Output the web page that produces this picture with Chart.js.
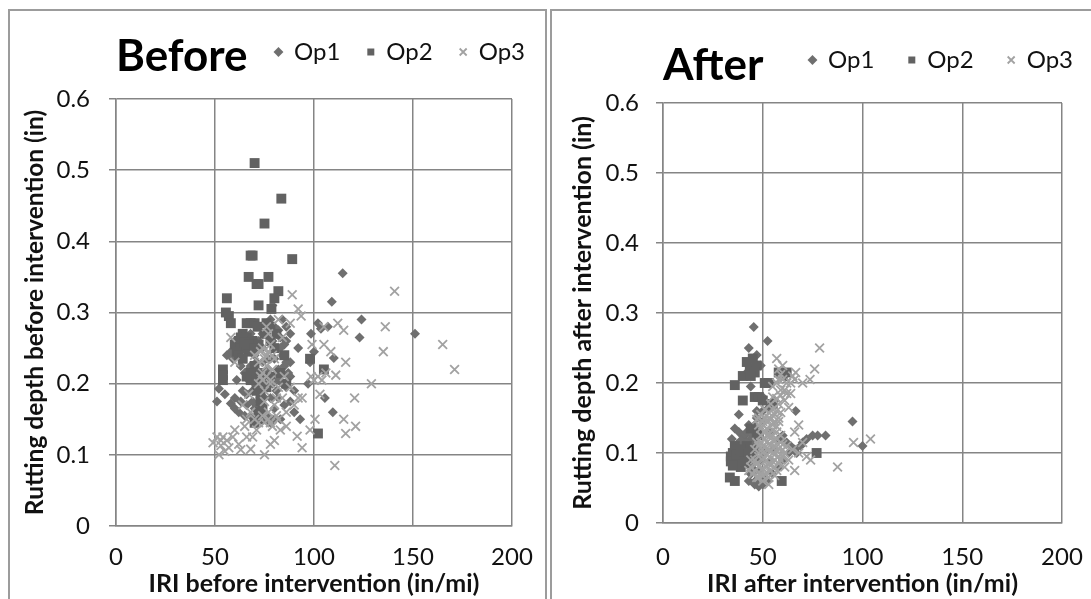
<!DOCTYPE html>
<html><head><meta charset="utf-8">
<script src="https://cdn.jsdelivr.net/npm/chart.js@4"></script>
<style>
html,body{margin:0;padding:0;background:#fff;width:1091px;height:599px;overflow:hidden}
.p{position:absolute;top:9px;height:600px;border:2px solid #9c9c9c;box-sizing:border-box;background:#fff}
#a{left:8px;width:539px}
#b{left:550px;width:560px}
canvas{position:absolute;left:0;top:0}
</style></head><body>
<div class="p" id="a"><canvas id="c1" width="535" height="590"></canvas></div>
<div class="p" id="b"><canvas id="c2" width="556" height="590"></canvas></div>
<script>
const seriesNames=["Op1","Op2","Op3"];
const xTicksMax=200, yTicksMax=0.6;
const beforeOp1=[[114.5,.355],[109,.315],[124,.29],[123,.265],[151,.27],[98.5,.27],[103.5,.277],[107,.28],[102,.285],[100,.245],[110,.236],[98,.23],[105.5,.18],[109.5,.16],[93,.15],[97,.2],[88,.21],[51,.175],[52,.193],[58,.172],[62,.16],[60,.18],[64,.19],[66,.17],[68,.155],[71,.145],[73,.16],[75,.18],[70,.2],[67,.205],[72,.215],[76,.205],[79,.2],[82,.22],[85,.225],[88,.23],[84,.24],[80,.235],[74,.23],[70,.24],[66,.245],[62,.25],[58,.245],[56,.24],[60,.26],[64,.265],[68,.27],[72,.26],[76,.27],[80,.28],[83,.265],[86,.26],[88,.27],[85,.255],[84,.29],[78,.29],[79,.31],[74,.25],[81,.19],[85,.17],[88,.175],[90,.16],[83,.15],[78,.145],[74,.15],[69,.175],[65,.215],[63,.225],[61,.205],[90,.19],[86,.195],[92,.25],[77,.235],[73,.2],[69,.19],[80,.165],[82,.205],[87,.215],[59,.235],[55,.185],[68,.225],[71,.23],[76,.155],[70,.165],[63,.175],[66,.185],[72,.17],[74,.19],[77,.22],[78,.18],[80,.15],[82,.18],[84,.2],[86,.23],[83,.25],[82,.275],[86,.28],[60,.165],[65,.155],[71,.155],[67,.22],[69,.21],[75,.215],[79,.26],[74,.27]];
const beforeOp2=[[70,.51],[83.5,.46],[75,.425],[68,.38],[69,.38],[89,.375],[67,.35],[71,.34],[72,.34],[77,.35],[82,.33],[80,.32],[56,.32],[72,.31],[78.5,.305],[55.5,.3],[57,.295],[58,.285],[66,.285],[68,.285],[70,.285],[71.5,.28],[64,.27],[66,.265],[69,.26],[62,.26],[60,.255],[63,.25],[65,.25],[67,.245],[61,.245],[72,.255],[75,.27],[78,.28],[81,.27],[54,.22],[54,.212],[54,.205],[105,.22],[102,.13],[70,.225],[72,.215],[68,.205],[66,.21],[75,.2],[78,.21],[71,.19],[73,.175],[72,.16],[70,.145],[98,.235],[85,.24],[83,.215],[86,.2],[63,.265],[65,.258],[67,.255],[70,.25],[62,.24],[64,.235],[68,.215],[71,.205],[74,.21],[76,.195],[73,.185],[72,.15],[74,.165],[80,.25],[78,.26],[76,.285]];
const beforeOp3=[[140.7,.33],[136,.28],[135,.245],[165,.255],[171,.22],[129,.2],[120.5,.18],[115,.15],[121,.14],[116,.13],[110.5,.085],[89,.325],[92,.305],[93.5,.295],[112,.285],[115,.275],[105,.255],[108.5,.245],[116,.23],[111,.212],[102,.21],[98.5,.21],[103,.185],[100.5,.15],[98,.135],[94,.11],[91.5,.126],[75,.1],[52,.1],[49,.117],[54,.125],[53,.113],[55,.105],[57,.11],[59,.125],[62,.115],[63,.107],[68,.108],[69,.125],[78,.115],[80,.12],[60,.135],[65,.14],[70,.15],[74,.155],[78,.145],[82,.15],[86,.16],[90,.17],[94,.18],[64,.17],[67,.185],[72,.2],[74,.215],[76,.24],[74,.25],[78,.255],[80,.235],[72,.23],[70,.24],[78,.205],[82,.195],[85,.21],[88,.195],[92,.18],[75,.175],[80,.17],[83,.135],[86,.14],[60,.23],[58,.265],[77,.27],[82,.29],[76,.28],[84,.265],[88,.285],[76,.225],[73,.21],[79,.22],[81,.18],[71,.135],[104,.205],[106,.215],[100,.205],[99,.255],[105,.28],[75,.19],[77,.16],[68,.16],[66,.15],[73,.245],[75,.235],[77,.245],[79,.24],[74,.205],[76,.21],[78,.2],[72,.145],[75,.145],[77,.15],[79,.14],[81,.155],[84,.18],[53,.12],[56,.12],[51,.125],[66,.125]];
const afterOp1=[[45.5,.28],[52.4,.26],[43,.25],[47,.24],[95,.145],[100,.11],[75,.125],[77.5,.125],[81.5,.125],[66.5,.16],[38,.155],[36,.135],[34.5,.12],[44,.23],[49,.225],[42,.215],[44,.195],[38,.13],[41,.125],[44,.12],[47,.115],[40,.11],[36,.105],[39,.095],[42,.09],[45,.085],[43,.06],[46,.055],[48,.052],[50,.055],[52,.06],[55,.07],[58,.08],[60,.09],[63,.1],[66,.105],[69,.11],[70,.115],[72,.12],[62,.115],[58,.12],[54,.13],[50,.145],[47,.15],[53,.165],[56,.175],[50,.18],[48,.135],[46,.14],[43,.14],[51,.1],[55,.105],[48,.075],[54,.09],[40,.125],[42,.13],[45,.125],[39,.118],[42,.115],[45,.11],[37,.112],[48,.105],[46,.095],[41,.102],[49,.09],[46,.075],[44,.07],[47,.062],[51,.065],[67,.1],[64,.11],[60,.125],[47,.16],[50,.16]];
const afterOp2=[[36,.197],[40,.21],[40,.175],[46,.18],[51,.2],[53,.2],[43.5,.22],[42,.23],[47,.225],[46,.215],[58,.215],[60,.21],[62,.215],[48,.18],[77,.1],[59.5,.06],[33.5,.065],[36,.06],[35,.1],[36,.09],[38,.105],[40,.095],[42,.11],[37,.085],[39,.08],[41,.1],[43,.09],[44,.105],[34,.095],[36,.11],[38,.095],[42,.085],[45,.1],[47,.13],[44,.135],[48,.125],[50,.175],[55,.17],[45,.235],[44,.21],[34,.088],[35,.082],[37,.098],[39,.105],[41,.088],[43,.1]];
const afterOp3=[[78.5,.25],[76,.22],[73.7,.205],[57,.235],[66.5,.215],[95.5,.115],[104,.12],[87.5,.08],[66,.075],[58,.22],[60,.205],[62,.2],[64,.185],[61,.175],[63,.165],[58,.17],[56,.155],[53,.15],[50,.145],[48,.14],[52,.135],[55,.14],[58,.145],[58,.15],[49,.125],[51,.12],[54,.125],[57,.13],[47,.115],[50,.11],[53,.105],[56,.11],[59,.115],[62,.11],[65,.105],[68,.1],[72,.095],[74,.09],[44,.08],[47,.085],[50,.09],[53,.085],[56,.09],[60,.095],[63,.09],[45,.07],[48,.065],[51,.07],[54,.075],[57,.075],[61,.08],[50,.06],[53,.055],[68,.14],[66,.13],[70,.115],[55,.195],[59,.19],[66,.205],[70,.2],[49,.155],[51,.15],[53,.158],[55,.162],[57,.16],[59,.158],[47,.148],[49,.135],[51,.13],[53,.128],[55,.132],[57,.138],[59,.125],[52,.115],[54,.112],[56,.118],[58,.106],[60,.105],[50,.1],[52,.098],[54,.102],[56,.098],[58,.095],[48,.095],[46,.09],[48,.08],[50,.078],[52,.08],[54,.082],[56,.08],[58,.085],[46,.075],[49,.07],[52,.072],[47,.065],[61,.19],[60,.225],[58,.205],[62,.185],[64,.2],[65,.21],[46,.105],[48,.11],[51,.108],[55,.1],[57,.12],[60,.112],[50,.14],[52,.145],[54,.148],[56,.145],[48,.15],[51,.162],[54,.17],[57,.178],[59,.182],[55,.18],[57,.2],[59,.212],[55,.088],[59,.09],[44,.09],[43,.075],[50,.068],[53,.065],[56,.068],[48,.1],[52,.09],[57,.103],[61,.1],[49,.115],[52,.125],[55,.118]];
const titles=["Before","After"];
const xTitles=["IRI before intervention (in/mi)","IRI after intervention (in/mi)"];
const yTitles=["Rutting depth before intervention (in)","Rutting depth after intervention (in)"];
const F="Lato, Carlito, sans-serif";
const GRID="#858585";

function make(id,idx,data,cfg){
 const {L,T,W,H,legTop,legPad,legShift,titleCenter,xTickPad,yTickPad,yTitlePad,yTitleSize}=cfg;
 const ds=(d,i)=>({label:seriesNames[i],data:d.map(p=>({x:p[0],y:p[1]})),
   pointStyle:["rectRot","rect","crossRot"][i],
   pointRadius:[5,7,6.2][i],
   pointBorderWidth:[0,0,1.8][i],
   backgroundColor:["#6f6f6f","#626262","#a2a2a2"][i],
   borderColor:["#6f6f6f","#626262","#a2a2a2"][i],
   order:3-i,showLine:false});
 const cv=document.getElementById(id);
 const boxTop=legTop+legPad+34;
 const pt=titleCenter-22-boxTop;
 const pb=T-boxTop-44-pt;
 new Chart(cv,{type:"scatter",
  data:{datasets:data.map(ds)},
  plugins:[{id:"legendShift",afterLayout(chart){chart.legend.right+=legShift;chart.legend.left+=legShift}}],
  options:{responsive:false,animation:false,
   layout:{padding:{left:0,right:cv.width-L-W,top:legTop,bottom:0}},
   plugins:{tooltip:{enabled:false},
    title:{display:true,text:titles[idx],align:"start",fullSize:false,color:"#000",weight:500,
      font:{family:F,size:44,weight:"bold",lineHeight:1},padding:{top:pt,bottom:pb}},
    legend:{display:true,position:"top",align:"end",fullSize:true,weight:3000,
      labels:{usePointStyle:true,boxHeight:7,boxWidth:7,color:"#111",padding:legPad,font:{family:F,size:24},
        sort:(a,b)=>a.datasetIndex-b.datasetIndex}}},
   scales:{
    x:{type:"linear",min:0,max:xTicksMax,
      afterFit(s){s.height=cv.height-T-H;s.paddingRight=0;s.paddingLeft=0},
      grid:{color:GRID,lineWidth:1.5,drawTicks:false},border:{color:GRID,width:1.5},
      ticks:{stepSize:50,color:"#111",padding:xTickPad,maxRotation:0,font:{family:F,size:24}},
      title:{display:true,text:xTitles[idx],color:"#111",padding:{top:2,bottom:2},font:{family:F,size:25,weight:"bold"}}},
    y:{type:"linear",min:0,max:yTicksMax,
      afterFit(s){s.width=L},
      grid:{color:GRID,lineWidth:1.5,tickLength:7},border:{color:GRID,width:1.5},
      ticks:{stepSize:.1,color:"#111",padding:yTickPad,font:{family:F,size:24},callback:v=>+v.toFixed(1)},
      title:{display:true,text:yTitles[idx],color:"#111",padding:{top:yTitlePad,bottom:0},font:{family:F,size:yTitleSize,weight:"bold"}}}
   }}});
}
make("c1",0,[beforeOp1,beforeOp2,beforeOp3],{L:106,T:88,W:396,H:427,legTop:2,legPad:27,legShift:40,titleCenter:46,xTickPad:17,yTickPad:19,yTitlePad:10,yTitleSize:24.5});
make("c2",1,[afterOp1,afterOp2,afterOp3],{L:111,T:92,W:399,H:420,legTop:3,legPad:34,legShift:45,titleCenter:55,xTickPad:20,yTickPad:17,yTitlePad:16,yTitleSize:25});
</script>
</body></html>
